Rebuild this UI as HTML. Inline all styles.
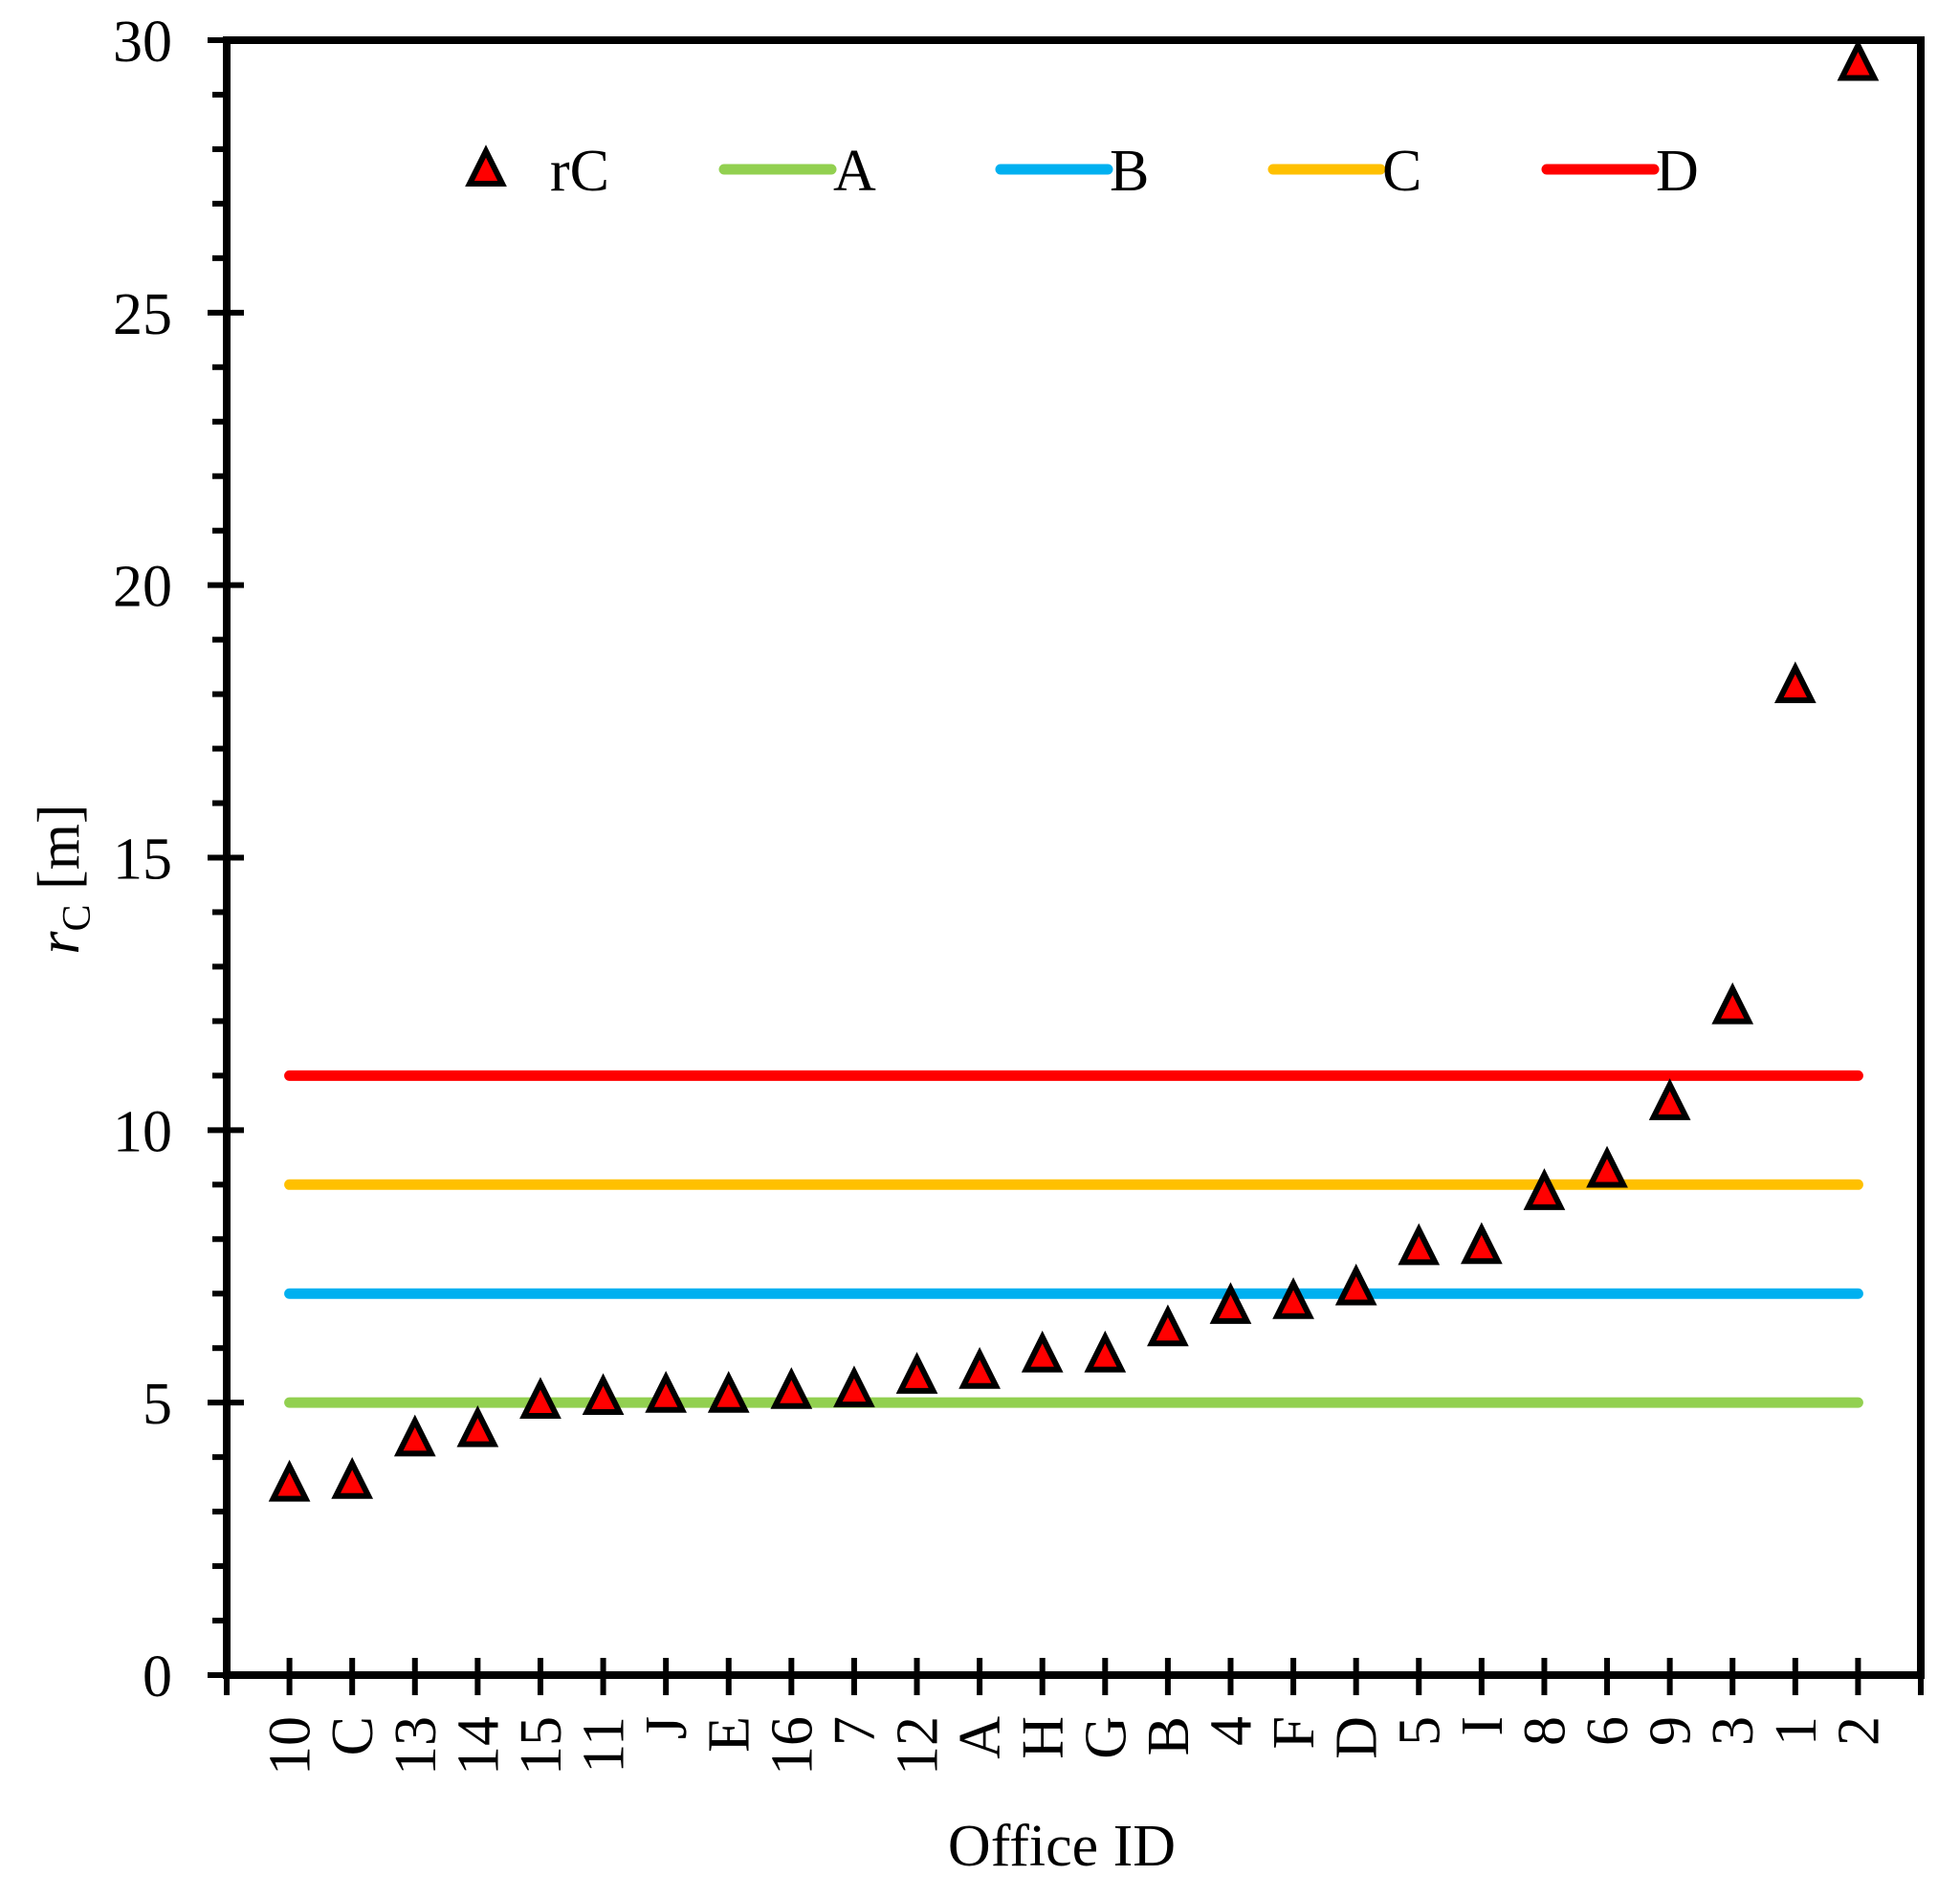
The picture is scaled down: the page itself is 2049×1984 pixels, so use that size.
<!DOCTYPE html>
<html><head><meta charset="utf-8"><style>
html,body{margin:0;padding:0;background:#fff;}
svg{display:block;font-family:"Liberation Serif",serif;}
</style></head><body>
<svg id="chart" width="2049" height="1984" viewBox="0 0 2049 1984" xmlns="http://www.w3.org/2000/svg">
<g id="lines"></g>
<g id="marks"></g>
<g id="axes"></g>
<g id="legend"></g>
<text x="1110" y="1950" font-size="62" text-anchor="middle">Office ID</text>
<text transform="translate(82,919) rotate(-90)" font-size="62" text-anchor="middle"><tspan font-style="italic">r</tspan><tspan font-size="42" dy="12">C</tspan><tspan dy="-12"> [m]</tspan></text>
</svg>
<script>
const categories = ["10","C","13","14","15","11","J","E","16","7","12","A","H","G","B","4","F","D","5","I","8","6","9","3","1","2"];
const rcValues = [3.5,3.55,4.33,4.5,5.02,5.09,5.13,5.13,5.2,5.23,5.48,5.57,5.87,5.87,6.35,6.76,6.85,7.1,7.84,7.86,8.85,9.26,10.5,12.26,18.15,29.57];
const thresholdNames = ["A","B","C","D"];
const thresholdValues = [5,7,9,11];
const thresholdColors = ["#92d050","#00b0f0","#ffc000","#ff0000"];
const yTicks = [0,5,10,15,20,25,30];

const NS = "http://www.w3.org/2000/svg";
const L = 237, R = 2008, T = 42, B = 1751, yMax = 30;
const step = (R - L) / (categories.length + 1);
function xPos(i){ return L + (i + 1) * step; }
function yPos(v){ return B - v / yMax * (B - T); }
function mk(tag, attrs, parent){
  const e = document.createElementNS(NS, tag);
  for (const k in attrs) e.setAttribute(k, attrs[k]);
  parent.appendChild(e);
  return e;
}
const gl = document.getElementById('lines');
const gm = document.getElementById('marks');
const ga = document.getElementById('axes');
const gleg = document.getElementById('legend');

function tri(cx, cy, parent){
  const h = 30, w = 34;
  return mk('polygon', {points: `${cx},${cy-h/2-4} ${cx-w/2},${cy+h/2} ${cx+w/2},${cy+h/2}`, fill:'#ff0000', stroke:'#000', 'stroke-width':6, 'stroke-linejoin':'miter'}, parent);
}

thresholdValues.forEach((v, i) => {
  const ln = mk('line', {x1: xPos(0), x2: xPos(categories.length - 1), y1: yPos(v), y2: yPos(v), stroke: thresholdColors[i], 'stroke-width': 11, 'stroke-linecap':'round'}, gl);
  
  
});

rcValues.forEach((v, i) => {
  const p = tri(xPos(i), yPos(v), gm);
  
  
});

const frame = mk('rect', {x: L, y: T, width: R - L, height: B - T, fill: 'none', stroke: '#000', 'stroke-width': 8}, ga);



for (let v = 0; v <= yMax; v++) {
  const major = v % 5 === 0;
  const t = mk('line', {x1: major ? 217 : 222, x2: major ? 255 : L, y1: yPos(v), y2: yPos(v), stroke: '#000', 'stroke-width': 6}, ga);
  
  
}
yTicks.forEach(v => {
  const t = mk('text', {x: 180, y: yPos(v) + 22, 'font-size': 62, 'text-anchor': 'end'}, ga);
  t.textContent = v;
  
  
});
for (let i = -1; i <= categories.length; i++) {
  const t = mk('line', {x1: xPos(i), x2: xPos(i), y1: 1733, y2: 1772, stroke: '#000', 'stroke-width': 6}, ga);
  
  
}
categories.forEach((c, i) => {
  const t = mk('text', {transform: `translate(${xPos(i) + 21},1794) rotate(-90)`, 'font-size': 62, 'text-anchor': 'end'}, ga);
  t.textContent = c;
  
  
});

const ly = 177;
const lt = tri(508, ly, gleg);


const ltx = mk('text', {x: 575, y: ly + 22, 'font-size': 62}, gleg);
ltx.textContent = 'rC';


const legX = [757, 1046, 1331, 1617];
thresholdNames.forEach((n, i) => {
  const ln = mk('line', {x1: legX[i], x2: legX[i] + 112, y1: ly, y2: ly, stroke: thresholdColors[i], 'stroke-width': 11, 'stroke-linecap': 'round'}, gleg);
  
  
  const tx = mk('text', {x: legX[i] + 114, y: ly + 22, 'font-size': 62}, gleg);
  tx.textContent = n;
  
  
});
</script>
</body></html>
